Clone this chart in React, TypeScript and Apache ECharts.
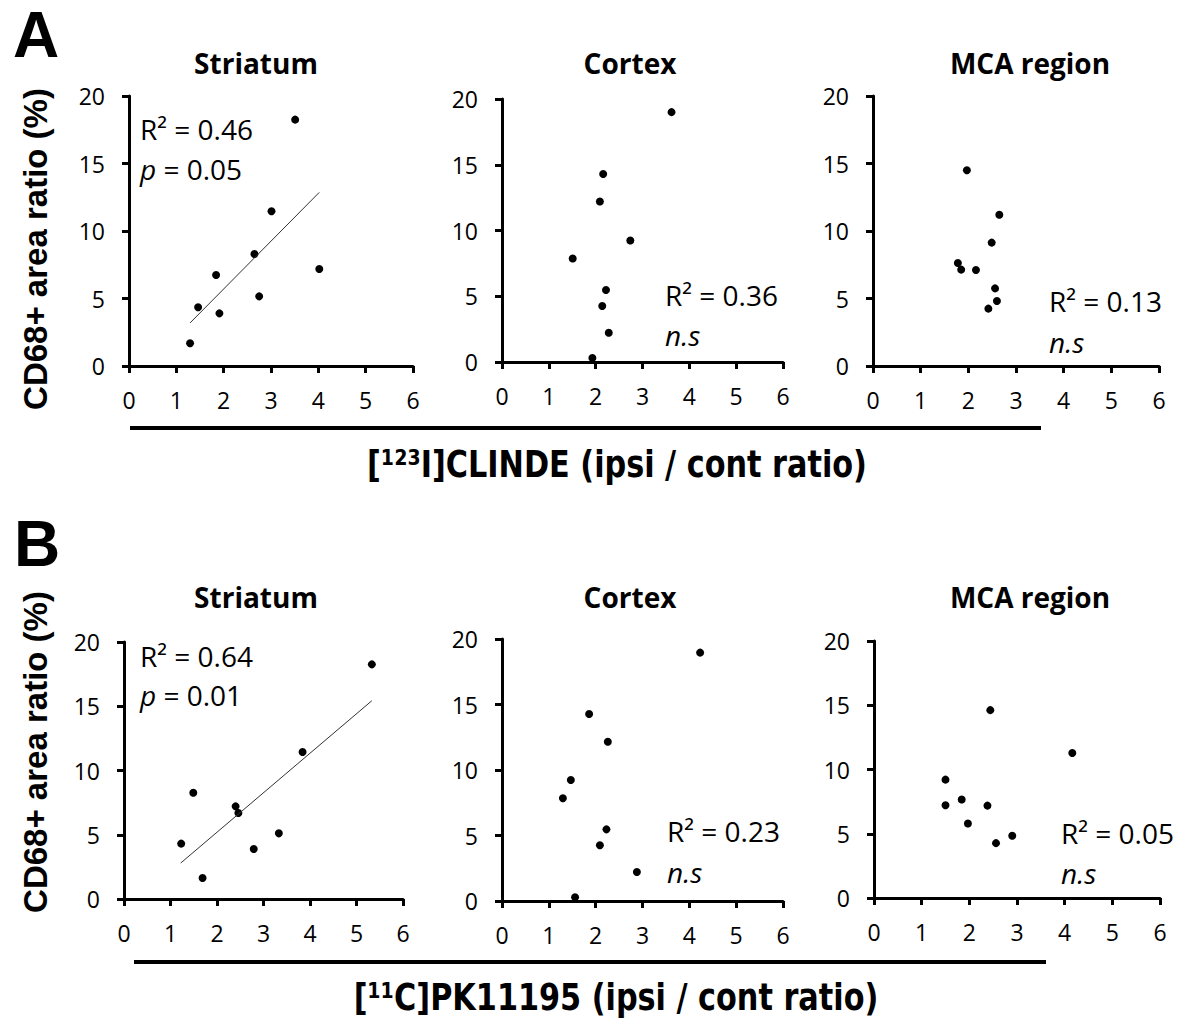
import React, { useEffect, useRef } from "react";
import * as echarts from "echarts";

// ---- Data ----
const clindeStriatumX = [1.29, 1.46, 1.84, 1.91, 2.65, 2.75, 3.01, 3.51, 4.02];
const clindeStriatumY = [1.68, 4.35, 6.74, 3.9, 8.3, 5.16, 11.46, 18.25, 7.19];
const clindeStriatumFit = [[1.29, 3.19], [4.02, 12.86]];

const clindeCortexX = [3.62, 2.16, 2.09, 2.74, 1.51, 2.22, 2.14, 2.28, 1.93];
const clindeCortexY = [19.0, 14.3, 12.2, 9.24, 7.87, 5.48, 4.26, 2.23, 0.3];

const clindeMcaX = [1.97, 2.65, 2.49, 1.78, 1.85, 2.16, 2.56, 2.6, 2.42];
const clindeMcaY = [14.5, 11.2, 9.14, 7.63, 7.14, 7.11, 5.75, 4.81, 4.25];

const pkStriatumX = [1.23, 1.49, 1.69, 2.4, 2.46, 2.79, 3.33, 3.84, 5.33];
const pkStriatumY = [4.31, 8.27, 1.63, 7.21, 6.69, 3.89, 5.11, 11.44, 18.26];
const pkStriatumFit = [[1.22, 2.8], [5.33, 15.43]];

const pkCortexX = [4.23, 1.86, 2.26, 1.47, 1.3, 2.23, 2.09, 2.88, 1.56];
const pkCortexY = [18.96, 14.27, 12.16, 9.24, 7.84, 5.47, 4.25, 2.21, 0.28];

const pkMcaX = [2.44, 4.16, 1.5, 1.84, 1.5, 2.38, 1.97, 2.9, 2.56];
const pkMcaY = [14.62, 11.28, 9.21, 7.66, 7.22, 7.19, 5.8, 4.84, 4.27];

const regionTitles = ["Striatum", "Cortex", "MCA region"];
const panelLetters = ["A", "B"];
const yAxisTitle = "CD68+ area ratio (%)";
const xTitles = ["[¹²³I]CLINDE (ipsi / cont ratio)", "[¹¹C]PK11195 (ipsi / cont ratio)"];
const rSquared = ["0.46", "0.36", "0.13", "0.64", "0.23", "0.05"];
const pValues = ["0.05", "n.s", "n.s", "0.01", "n.s", "n.s"];
const xMin = 0, xMax = 6, xStep = 1;
const yMin = 0, yMax = 20, yStep = 5;

const panelData = [
  { x: clindeStriatumX, y: clindeStriatumY, fit: clindeStriatumFit },
  { x: clindeCortexX, y: clindeCortexY, fit: null },
  { x: clindeMcaX, y: clindeMcaY, fit: null },
  { x: pkStriatumX, y: pkStriatumY, fit: pkStriatumFit },
  { x: pkCortexX, y: pkCortexY, fit: null },
  { x: pkMcaX, y: pkMcaY, fit: null },
];

// ---- Layout ----
const gridBoxes = [
  { l: 129, t: 96, w: 284, h: 270 },
  { l: 502, t: 99, w: 281, h: 263 },
  { l: 873, t: 96, w: 286, h: 270 },
  { l: 124, t: 642, w: 279, h: 257 },
  { l: 502, t: 639, w: 281, h: 262 },
  { l: 874, t: 641, w: 286, h: 257 },
];
const annotPos = [
  { x: 140, y1: 129, y2: 169 },
  { x: 665, y1: 295, y2: 335 },
  { x: 1049, y1: 301, y2: 342 },
  { x: 140, y1: 656, y2: 695 },
  { x: 667, y1: 831, y2: 872 },
  { x: 1061, y1: 833, y2: 873 },
];
const titleX = [256, 630, 1030];
const titleY = [63, 597];
const letterPos = [{ x: 13, y: 35 }, { x: 14, y: 544 }];
const yTitlePos = [{ x: 35, y: 249 }, { x: 35, y: 752 }];
const xTitlePos = [{ x: 617, y: 464 }, { x: 616, y: 997 }];
const hLines = [
  { x1: 130, x2: 1041, y: 428 },
  { x1: 134, x2: 1046, y: 962 },
];

const FONT = "'Open Sans', 'Noto Sans', sans-serif";
const ARIAL = "'Liberation Sans', Arial, sans-serif";
const NARROW = "'DejaVu Sans Condensed', 'DejaVu Sans', sans-serif";

function buildOption() {
  const grid = gridBoxes.map((g) => ({ left: g.l, top: g.t, width: g.w, height: g.h }));
  const axisLine = { show: true, onZero: false, lineStyle: { color: "#000", width: 3 } };
  const axisTick = { show: true, length: 7, lineStyle: { color: "#000", width: 3 } };
  const xAxis = gridBoxes.map((_, i) => ({
    gridIndex: i,
    type: "value",
    min: xMin,
    max: xMax,
    interval: xStep,
    axisLine,
    axisTick,
    splitLine: { show: false },
    axisLabel: { fontSize: 23, color: "#000", fontFamily: FONT, margin: 22 },
  }));
  const yAxis = gridBoxes.map((_, i) => ({
    gridIndex: i,
    type: "value",
    min: yMin,
    max: yMax,
    interval: yStep,
    axisLine,
    axisTick,
    splitLine: { show: false },
    axisLabel: { fontSize: 23, color: "#000", fontFamily: FONT, margin: 24 },
  }));

  const series: any[] = [];
  panelData.forEach((p, i) => {
    series.push({
      type: "scatter",
      xAxisIndex: i,
      yAxisIndex: i,
      symbolSize: 8,
      itemStyle: { color: "#000", opacity: 1 },
      data: p.x.map((v, k) => [v, p.y[k]]),
    });
    if (p.fit) {
      series.push({
        type: "line",
        xAxisIndex: i,
        yAxisIndex: i,
        symbol: "none",
        lineStyle: { color: "#333", width: 1 },
        data: p.fit,
      });
    }
  });

  const graphic: any[] = [];
  panelLetters.forEach((L, r) => {
    graphic.push({
      type: "text",
      x: letterPos[r].x,
      y: letterPos[r].y,
      style: { text: L, fontFamily: ARIAL, fontWeight: "bold", fontSize: 64, fill: "#000", verticalAlign: "middle" },
    });
    regionTitles.forEach((t, c) => {
      graphic.push({
        type: "text",
        x: titleX[c],
        y: titleY[r],
        style: { text: t, fontFamily: FONT, fontWeight: "bold", fontSize: 28, fill: "#000", align: "center", verticalAlign: "middle" },
      });
    });
    graphic.push({
      type: "text",
      x: yTitlePos[r].x,
      y: yTitlePos[r].y,
      rotation: Math.PI / 2,
      style: { text: yAxisTitle, fontFamily: ARIAL, fontWeight: "bold", fontSize: 33, fill: "#000", align: "center", verticalAlign: "middle" },
    });
    graphic.push({
      type: "text",
      x: xTitlePos[r].x,
      y: xTitlePos[r].y,
      scaleX: 0.91,
      style: {
        text: xTitles[r],
        fontFamily: NARROW,
        fontWeight: "bold",
        fontSize: 37,
        fill: "#000",
        align: "center",
        verticalAlign: "middle",
      },
    });
    graphic.push({
      type: "line",
      shape: { x1: hLines[r].x1, y1: hLines[r].y, x2: hLines[r].x2, y2: hLines[r].y },
      style: { stroke: "#000", lineWidth: 4 },
    });
  });

  rSquared.forEach((r2, i) => {
    const pv = pValues[i];
    graphic.push({
      type: "text",
      x: annotPos[i].x,
      y: annotPos[i].y1,
      style: { text: `R² = ${r2}`, fontFamily: FONT, fontSize: 28, fill: "#000", verticalAlign: "middle" },
    });
    graphic.push({
      type: "text",
      x: annotPos[i].x,
      y: annotPos[i].y2,
      style: {
        text: pv === "n.s" ? `{i|n.s}` : `{i|p}{n| = ${pv}}`,
        verticalAlign: "middle",
        rich: {
          n: { fontFamily: FONT, fontSize: 28, fill: "#000" },
          i: { fontFamily: FONT, fontSize: 28, fontStyle: "italic", fill: "#000" },
        },
      },
    });
  });

  return {
    animation: false,
    backgroundColor: "#fff",
    grid,
    xAxis,
    yAxis,
    series,
    graphic,
  };
}

export default function App() {
  const ref = useRef<HTMLDivElement>(null);
  useEffect(() => {
    if (!ref.current) return;
    const chart = echarts.init(ref.current, null, { renderer: "svg" });
    chart.setOption(buildOption() as any);
    return () => chart.dispose();
  }, []);
  return (
    <div
      ref={ref}
      style={{ position: "fixed", left: 0, top: 0, width: 1181, height: 1020, background: "#fff" }}
    />
  );
}
